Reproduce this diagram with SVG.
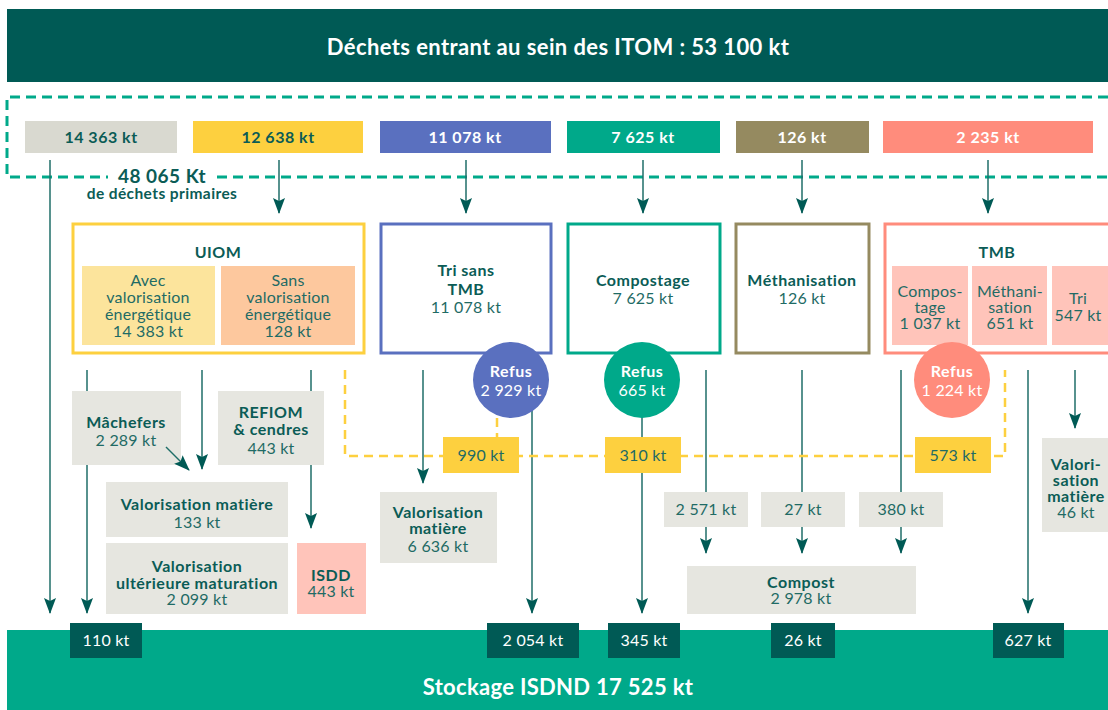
<svg xmlns="http://www.w3.org/2000/svg" width="1108" height="710" viewBox="0 0 1108 710">
<style>
text{font-family:Lato,"Noto Sans","Liberation Sans",sans-serif;text-anchor:middle;fill:#1f6b65;font-size:16px;letter-spacing:0.2px}
.b{font-weight:700;fill:#0b5c56;letter-spacing:0.5px}
.w{fill:#fff}
.wb{fill:#fff;font-weight:700;letter-spacing:0.5px}
.ln{stroke:#1f6e68;stroke-width:1.5;fill:none}
.grey{fill:#e6e6e0}
.yd{stroke:#fdd03f;stroke-width:2.5;fill:none;stroke-dasharray:9 6}
.yb{fill:#fdd03f}
.dk{fill:#005a55}
</style>
<defs>
<marker id="ah" markerUnits="userSpaceOnUse" markerWidth="16" markerHeight="12" refX="15" refY="6" orient="auto" viewBox="0 0 16 12">
<path d="M0,0 L16,6 L0,12 L3,6 Z" fill="#005a55"/>
</marker>
</defs>

<g id="header">
<rect x="7" y="9" width="1101" height="73" fill="#005a55"/>
<text x="558" y="55" class="wb" style="font-size:22px;letter-spacing:0.4px">Déchets entrant au sein des ITOM : 53 100 kt</text>
</g>

<g id="primaires">
<path d="M1108,97 H7 V177 H108 M217,177 H1108" stroke="#00a98a" stroke-width="3" fill="none" stroke-dasharray="10 6"/>
<text x="162" y="183" class="b" style="font-size:19px">48 065 Kt</text>
<text x="162" y="199" class="b" style="font-size:15.5px;letter-spacing:0.4px">de déchets primaires</text>
</g>

<g id="top-boxes">
<rect x="25" y="121" width="152" height="32" fill="#d9d9d0"/>
<text x="101" y="143" class="b">14 363 kt</text>
<rect x="193" y="121" width="170" height="32" fill="#fdd03f"/>
<text x="278" y="143" class="b">12 638 kt</text>
<rect x="380" y="121" width="171" height="32" fill="#5a70bf"/>
<text x="465" y="143" class="wb">11 078 kt</text>
<rect x="567" y="121" width="153" height="32" fill="#00a98a"/>
<text x="643" y="143" class="wb">7 625 kt</text>
<rect x="736" y="121" width="133" height="32" fill="#958a60"/>
<text x="802" y="143" class="wb">126 kt</text>
<rect x="883" y="121" width="210" height="32" fill="#ff8c7c"/>
<text x="988" y="143" class="wb">2 235 kt</text>
</g>

<g id="connectors">
<line class="ln" x1="50" y1="160" x2="50" y2="613" marker-end="url(#ah)"/>
<line class="ln" x1="279" y1="160" x2="279" y2="213" marker-end="url(#ah)"/>
<line class="ln" x1="466" y1="160" x2="466" y2="213" marker-end="url(#ah)"/>
<line class="ln" x1="643" y1="160" x2="643" y2="213" marker-end="url(#ah)"/>
<line class="ln" x1="802" y1="160" x2="802" y2="213" marker-end="url(#ah)"/>
<line class="ln" x1="988" y1="160" x2="988" y2="213" marker-end="url(#ah)"/>
<line class="ln" x1="87" y1="370" x2="87" y2="613" marker-end="url(#ah)"/>
<line class="ln" x1="202" y1="370" x2="202" y2="469" marker-end="url(#ah)"/>
<line class="ln" x1="311" y1="370" x2="311" y2="528" marker-end="url(#ah)"/>
<line class="ln" x1="423" y1="370" x2="423" y2="483" marker-end="url(#ah)"/>
<line class="ln" x1="532" y1="400" x2="532" y2="613" marker-end="url(#ah)"/>
<line class="ln" x1="642" y1="400" x2="642" y2="613" marker-end="url(#ah)"/>
<line class="ln" x1="706" y1="370" x2="706" y2="553" marker-end="url(#ah)"/>
<line class="ln" x1="802" y1="370" x2="802" y2="553" marker-end="url(#ah)"/>
<line class="ln" x1="901" y1="370" x2="901" y2="553" marker-end="url(#ah)"/>
<line class="ln" x1="1028" y1="370" x2="1028" y2="613" marker-end="url(#ah)"/>
<line class="ln" x1="1075" y1="370" x2="1075" y2="428" marker-end="url(#ah)"/>
<path class="yd" d="M345,370 V456 H1005 V370"/>
<path class="yd" d="M497,418 V437"/>
</g>

<g id="uiom">
<rect x="73" y="224" width="291" height="129" fill="#fff" stroke="#fdd03f" stroke-width="3"/>
<text x="218" y="258" class="b">UIOM</text>
<rect x="82" y="266" width="133" height="79" fill="#fce49c"/>
<text x="148" y="286">Avec</text>
<text x="148" y="303">valorisation</text>
<text x="148" y="320">énergétique</text>
<text x="148" y="337">14 383 kt</text>
<rect x="221" y="266" width="134" height="79" fill="#fdc89e"/>
<text x="288" y="286">Sans</text>
<text x="288" y="303">valorisation</text>
<text x="288" y="320">énergétique</text>
<text x="288" y="337">128 kt</text>
</g>

<g id="tri">
<rect x="381" y="224" width="170" height="129" fill="#fff" stroke="#5a70bf" stroke-width="3"/>
<text x="466" y="276" class="b">Tri sans</text>
<text x="466" y="295" class="b">TMB</text>
<text x="466" y="313">11 078 kt</text>
</g>

<g id="compostage">
<rect x="568" y="224" width="152" height="129" fill="#fff" stroke="#00a98a" stroke-width="3"/>
<text x="643" y="286" class="b">Compostage</text>
<text x="643" y="304">7 625 kt</text>
</g>

<g id="methanisation">
<rect x="736" y="224" width="133" height="129" fill="#fff" stroke="#958a60" stroke-width="3"/>
<text x="802" y="286" class="b">Méthanisation</text>
<text x="802" y="304">126 kt</text>
</g>

<g id="tmb">
<rect x="885" y="224" width="230" height="129" fill="#fff" stroke="#ff8c7c" stroke-width="3"/>
<text x="997" y="258" class="b">TMB</text>
<rect x="892" y="266" width="76" height="79" fill="#ffc4ba"/>
<text x="930" y="297">Compos-</text>
<text x="930" y="313">tage</text>
<text x="930" y="329">1 037 kt</text>
<rect x="972" y="266" width="75" height="79" fill="#ffc4ba"/>
<text x="1010" y="297">Méthani-</text>
<text x="1010" y="313">sation</text>
<text x="1010" y="329">651 kt</text>
<rect x="1052" y="266" width="60" height="79" fill="#ffc4ba"/>
<text x="1078" y="304">Tri</text>
<text x="1078" y="321">547 kt</text>
</g>

<g id="refus-tri">
<circle cx="511" cy="380" r="38" fill="#5a70bf"/>
<text x="511" y="377" class="wb">Refus</text>
<text x="511" y="396" class="w">2 929 kt</text>
</g>
<g id="refus-compost">
<circle cx="642" cy="380" r="38" fill="#00a98a"/>
<text x="642" y="377" class="wb">Refus</text>
<text x="642" y="396" class="w">665 kt</text>
</g>
<g id="refus-tmb">
<circle cx="952" cy="380" r="38" fill="#ff8c7c"/>
<text x="952" y="377" class="wb">Refus</text>
<text x="952" y="396" class="w">1 224 kt</text>
</g>

<g id="machefers">
<rect x="72" y="391" width="109" height="74" class="grey"/>
<text x="126" y="428" class="b">Mâchefers</text>
<text x="126" y="446">2 289 kt</text>
</g>
<g id="connector-machefers">
<line class="ln" x1="166" y1="447" x2="189" y2="470" marker-end="url(#ah)"/>
</g>
<g id="refiom">
<rect x="218" y="391" width="106" height="74" class="grey"/>
<text x="271" y="418" class="b">REFIOM</text>
<text x="271" y="435" class="b">&amp; cendres</text>
<text x="271" y="454">443 kt</text>
</g>
<g id="valo-133">
<rect x="106" y="482" width="182" height="55" class="grey"/>
<text x="197" y="510" class="b">Valorisation matière</text>
<text x="197" y="528">133 kt</text>
</g>
<g id="valo-ulterieure">
<rect x="106" y="543" width="182" height="71" class="grey"/>
<text x="197" y="572" class="b">Valorisation</text>
<text x="197" y="589" class="b">ultérieure maturation</text>
<text x="197" y="605">2 099 kt</text>
</g>
<g id="isdd">
<rect x="297" y="543" width="69" height="71" fill="#ffc4ba"/>
<text x="331" y="581" class="b">ISDD</text>
<text x="331" y="597">443 kt</text>
</g>

<g id="y990"><rect x="443" y="437" width="76" height="36" class="yb"/><text x="481" y="461">990 kt</text></g>
<g id="y310"><rect x="605" y="437" width="76" height="36" class="yb"/><text x="643" y="461">310 kt</text></g>
<g id="y573"><rect x="915" y="437" width="76" height="36" class="yb"/><text x="953" y="461">573 kt</text></g>

<g id="valo-6636">
<rect x="380" y="492" width="117" height="71" class="grey"/>
<text x="438" y="518" class="b">Valorisation</text>
<text x="438" y="534" class="b">matière</text>
<text x="438" y="552">6 636 kt</text>
</g>
<g id="g2571"><rect x="664" y="492" width="84" height="35" class="grey"/><text x="706" y="515">2 571 kt</text></g>
<g id="g27"><rect x="761" y="492" width="84" height="35" class="grey"/><text x="803" y="515">27 kt</text></g>
<g id="g380"><rect x="859" y="492" width="84" height="35" class="grey"/><text x="901" y="515">380 kt</text></g>
<g id="compost">
<rect x="687" y="566" width="229" height="48" class="grey"/>
<text x="801" y="588" class="b">Compost</text>
<text x="801" y="604">2 978 kt</text>
</g>
<g id="valo-46">
<rect x="1042" y="438" width="70" height="94" class="grey"/>
<text x="1076" y="470" class="b">Valori-</text>
<text x="1076" y="486" class="b">sation</text>
<text x="1076" y="502" class="b">matière</text>
<text x="1076" y="518">46 kt</text>
</g>

<g id="stockage">
<rect x="7" y="630" width="1101" height="80" fill="#00a98a"/>
<text x="558" y="695" class="wb" style="font-size:22px;letter-spacing:0.3px">Stockage ISDND 17 525 kt</text>
<rect x="70" y="623" width="72" height="35" class="dk"/><text x="106" y="646" class="w">110 kt</text>
<rect x="487" y="623" width="92" height="35" class="dk"/><text x="533" y="646" class="w">2 054 kt</text>
<rect x="608" y="623" width="72" height="35" class="dk"/><text x="644" y="646" class="w">345 kt</text>
<rect x="771" y="623" width="64" height="35" class="dk"/><text x="803" y="646" class="w">26 kt</text>
<rect x="993" y="623" width="71" height="35" class="dk"/><text x="1028" y="646" class="w">627 kt</text>
</g>
</svg>
